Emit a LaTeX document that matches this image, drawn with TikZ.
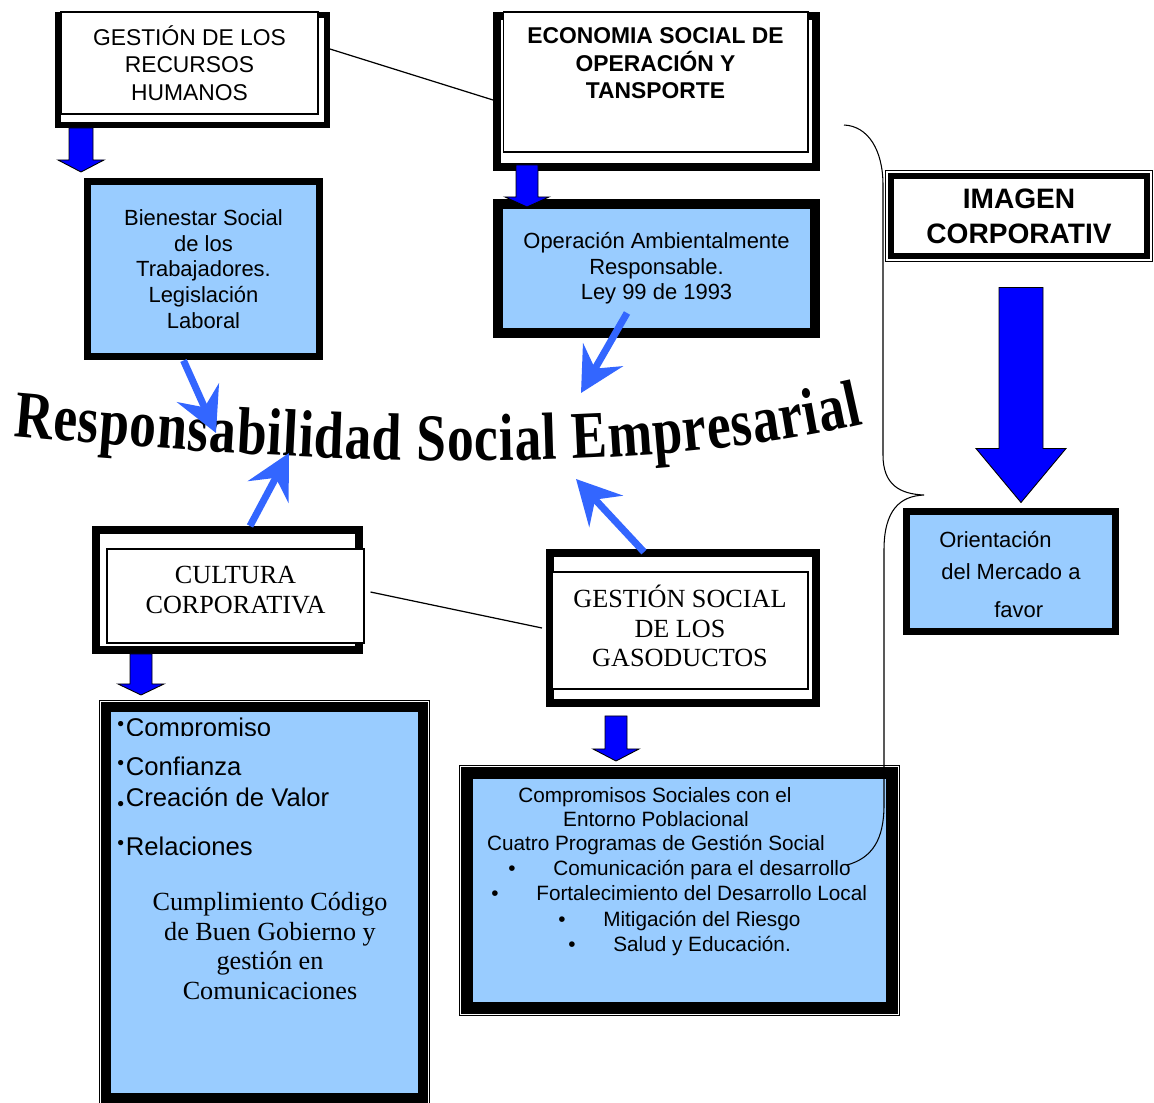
\documentclass[tikz,border=0pt]{standalone}
\usepackage{fontspec}
\setmainfont{Liberation Sans}
\newfontfamily\timesfont{Liberation Serif}
\newfontfamily\titlefont[FakeStretch=0.8]{Liberation Serif}
\usetikzlibrary{arrows.meta,positioning,calc,decorations.text}
\definecolor{sky}{HTML}{99CCFF}
\definecolor{lightarrow}{HTML}{3366FF}
\definecolor{deepblue}{HTML}{0000FF}
\newcommand\smallbul[1]{{\fontsize{11}{11}\selectfont\raisebox{#1}{•}}}

\begin{document}
\begin{tikzpicture}[x=0.02cm, y=-0.02cm,
    outerframe/.style={draw=black, fill=white, line width=#1, inner sep=0pt},
    outerframe/.default=0.16cm,
    card/.style={draw=black, fill=white, line width=0.6pt, inner sep=0pt, align=center},
    bluebox/.style={draw=black, fill=sky, line width=#1, inner sep=0pt, align=center},
    bluebox/.default=0.14cm,
    band/.style={draw=black, line width=#1, inner sep=0pt, align=center,
      preaction={draw=black, line width=#1+0.1cm},
      preaction={draw=white, line width=#1+0.06cm}},
    sans/.style={font=\fontsize{12.5}{14.6}\selectfont, inner sep=0pt},
    small/.style={font=\fontsize{11.8}{14}\selectfont, inner sep=0pt},
    caps/.style={font=\fontsize{13}{15.5}\selectfont, inner sep=0pt},
    bold/.style={font=\bfseries\fontsize{13}{15.6}\selectfont, inner sep=0pt},
    serif/.style={font=\timesfont\fontsize{14.9}{17}\selectfont, inner sep=0pt},
    listline/.style={font=\fontsize{14.6}{17}\selectfont, anchor=base west, inner sep=0pt},
    link/.style={draw=black, line width=0.7pt},
    toward/.style={draw=lightarrow, line width=4pt,
      -{Stealth[length=25pt, width=26pt, inset=9pt]}},
    blockarrow/.style={draw=black, fill=deepblue, line width=0.5pt},
    pics/blockdown/.style args={#1,#2,#3,#4}{code={
      \draw[blockarrow] (-#1,0) -- (#1,0) -- (#1,#3) -- (#2,#3) -- (0,#3+#4)
        -- (-#2,#3) -- (-#1,#3) -- cycle;}}]
  \useasboundingbox (0,0) rectangle (1154,1103);

  % upper row
  \node[outerframe=0.12cm, minimum width=5.38cm, minimum height=2.2cm] (grhframe) at (192.5,70) {};
  \node[card, caps, minimum width=5.14cm, minimum height=2.04cm] (grh) at (189.5,63)
    {GESTIÓN DE LOS\\RECURSOS\\HUMANOS};
  \node[outerframe, minimum width=6.38cm, minimum height=3.02cm] (esotframe) at (656.5,91.5) {};
  \node[card, minimum width=6.1cm, minimum height=2.8cm] (esot) at (655.5,82) {};
  \node[bold, align=center, below=0.32cm of esot.north] (esottxt)
    {ECONOMIA SOCIAL DE\\OPERACIÓN Y\\TANSPORTE};
  \node[band=0.12cm, fill=white, font=\bfseries\fontsize{16}{19.8}\selectfont,
        minimum width=5.14cm, minimum height=1.62cm] (imagen) at (1019,216)
    {IMAGEN\\CORPORATIV};

  \node[bluebox, sans, minimum width=4.64cm, minimum height=3.52cm] (bienestar) at (203.5,269)
    {Bienestar Social\\de los\\Trabajadores.\\Legislación\\Laboral};
  \node[bluebox=0.2cm, sans, minimum width=6.34cm, minimum height=2.58cm] (operacion) at (656.5,268.5)
    {Operación Ambientalmente\\Responsable.\\Ley 99 de 1993};

  % title
  \coordinate (tipA) at (216,433);
  \coordinate (tipB) at (581,393);
  \coordinate (tipC) at (289,453);
  \coordinate (tipD) at (576,479);
  \path[decorate, decoration={text along path, text align=fit to path,
      text={|\titlefont\bfseries\fontsize{38}{38}\selectfont|Responsabilidad Social Empresarial}}]
    (13,436) .. controls (300,462) and (620,480) .. (863,424);

  % right side
  \node[bluebox, minimum width=4.18cm, minimum height=2.4cm] (orient) at (1011,571.5) {};
  \node[sans, anchor=base west] (o1) at (939,547) {Orientación};
  \node[sans, anchor=base west] (o2) at (941,579) {del Mercado a};
  \node[sans, anchor=base west] (o3) at (994,617) {favor};

  % lower row
  \node[outerframe, minimum width=5.26cm, minimum height=2.4cm] (cultframe) at (227.5,590) {};
  \node[card, minimum width=5.14cm, minimum height=1.88cm] (cultura) at (235.5,596) {};
  \node[serif, align=center] (culturatxt) at (235.5,590) {CULTURA\\CORPORATIVA};
  \node[outerframe, minimum width=5.32cm, minimum height=3.0cm] (gestframe) at (683,628) {};
  \node[card, minimum width=5.12cm, minimum height=2.34cm] (gestion) at (680,630.5) {};
  \node[serif, align=center] (gestiontxt) at (680,626) {GESTIÓN SOCIAL\\DE LOS\\GASODUCTOS};

  \node[band=0.2cm, fill=sky, minimum width=6.34cm, minimum height=7.82cm] (valores) at (264.5,902.5) {};
  \begin{scope}
    \clip (100,700) rectangle (430,735);
    \node[listline] (v1) at (117,736) {\smallbul{3pt}\hspace{1pt}Compromiso};
  \end{scope}
  \node[listline] (v2) at (117,775) {\smallbul{3pt}\hspace{1pt}Confianza};
  \node[listline] (v3) at (117,806) {\smallbul{-2.5pt}\hspace{1pt}Creación de Valor};
  \node[listline] (v4) at (117,855) {\smallbul{3pt}\hspace{1pt}Relaciones};
  \node[serif, align=center] (codigo) at (270,946)
    {Cumplimiento Código\\de Buen Gobierno y\\gestión en\\Comunicaciones};

  \node[band=0.24cm, fill=sky, minimum width=8.5cm, minimum height=4.7cm] (compromisos) at (679.5,890.5) {};
  \node[small, anchor=base] (c1) at (655,802) {Compromisos Sociales con el};
  \node[small, anchor=base] (c2) at (656,826) {Entorno Poblacional};
  \node[small, anchor=base] (c3) at (656,850) {Cuatro Programas de Gestión Social};
  \node[small, anchor=base west] (c4) at (508,875) {\makebox[0.9cm][l]{•}Comunicación para el desarrollo};
  \node[small, anchor=base west] (c5) at (491,900) {\makebox[0.9cm][l]{•}Fortalecimiento del Desarrollo Local};
  \node[small, anchor=base west] (c6) at (558,926) {\makebox[0.9cm][l]{•}Mitigación del Riesgo};
  \node[small, anchor=base west] (c7) at (568,951) {\makebox[0.9cm][l]{•}Salud y Educación.};

  % links and brace
  \draw[link] ([yshift=0.42cm]grhframe.east) -- ([yshift=-0.17cm]esotframe.west);
  \draw[link] ([xshift=0.12cm, yshift=0.08cm]cultura.east) -- ([xshift=-0.08cm]gestframe.west);
  \coordinate (bracetop) at (844,125);
  \coordinate (bracetip) at (924,495);
  \coordinate (braceend) at (847,865);
  \draw[link, line width=0.6pt] (bracetop) .. controls (868,126) and (883,150) .. (883,185)
    -- (883,455) .. controls (883,485) and (900,494) .. (bracetip)
    .. controls (900,496) and (884,510) .. (884,550)
    -- (884,805) .. controls (884,840) and (872,858) .. (braceend);

  % block arrows
  \pic at (81,0 |- grhframe.south) {blockdown={12,23,32,12}};
  \pic at ($(527,0 |- esotframe.south)+(0,-6)$) {blockdown={11,22,32,10}};
  \pic at (141,0 |- cultframe.south) {blockdown={11,23,30,11}};
  \pic at ($(616,0 |- gestframe.south)+(0,9)$) {blockdown={11,23,33,12}};
  \pic at ($(1021,0 |- imagen.south)+(0,28)$) {blockdown={22,45,161,54}};

  % arrows toward the title
  \draw[toward] ([xshift=-0.4cm]bienestar.south) -- (tipA);
  \draw[toward] ([xshift=-0.59cm, yshift=0.5cm]operacion.south) -- (tipB);
  \draw[toward] ([xshift=0.45cm]cultframe.north) -- (tipC);
  \draw[toward] ([xshift=-0.78cm, yshift=-0.06cm]gestframe.north) -- (tipD);
\end{tikzpicture}
\end{document}
